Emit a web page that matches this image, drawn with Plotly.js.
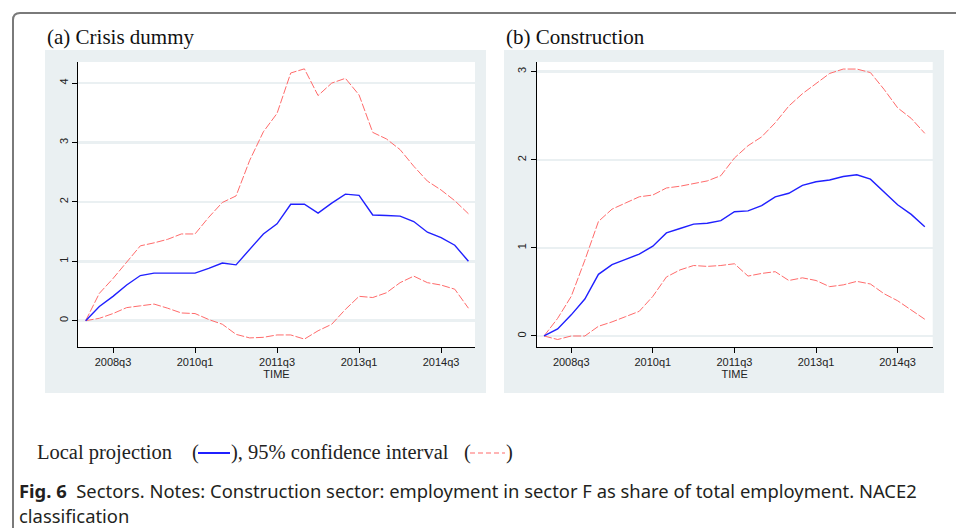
<!DOCTYPE html>
<html><head><meta charset="utf-8">
<script src="https://cdn.plot.ly/plotly-3.0.1.min.js"></script>
<style>html,body{margin:0;padding:0;background:#fff}#chart{width:956px;height:528px}</style>
</head><body><div id="chart"></div>
<script>
const quarters = ['2008q1','2008q2','2008q3','2008q4','2009q1','2009q2','2009q3','2009q4',
  '2010q1','2010q2','2010q3','2010q4','2011q1','2011q2','2011q3','2011q4',
  '2012q1','2012q2','2012q3','2012q4','2013q1','2013q2','2013q3','2013q4',
  '2014q1','2014q2','2014q3','2014q4','2015q1'];
const tickQuarters = ['2008q3','2010q1','2011q3','2013q1','2014q3'];

// (a) Crisis dummy
const crisisLP = [0, 0.24, 0.41, 0.60, 0.76, 0.80, 0.80, 0.80, 0.80, 0.88, 0.97, 0.94, 1.20, 1.46, 1.63, 1.96, 1.96, 1.81, 1.98, 2.13, 2.11, 1.78, 1.77, 1.76, 1.67, 1.49, 1.40, 1.27, 1.00];
const crisisHi = [0, 0.46, 0.71, 0.98, 1.26, 1.31, 1.37, 1.46, 1.46, 1.74, 1.99, 2.10, 2.70, 3.18, 3.49, 4.17, 4.24, 3.79, 4.00, 4.08, 3.80, 3.17, 3.06, 2.88, 2.60, 2.35, 2.20, 2.02, 1.80];
const crisisLo = [0, 0.04, 0.12, 0.22, 0.25, 0.28, 0.21, 0.13, 0.12, 0.02, -0.06, -0.23, -0.29, -0.28, -0.24, -0.24, -0.31, -0.17, -0.06, 0.19, 0.41, 0.39, 0.47, 0.64, 0.75, 0.64, 0.60, 0.53, 0.21];

// (b) Construction
const constrLP = [0, 0.08, 0.24, 0.42, 0.70, 0.81, 0.87, 0.93, 1.02, 1.17, 1.22, 1.27, 1.28, 1.31, 1.41, 1.42, 1.48, 1.58, 1.62, 1.71, 1.75, 1.77, 1.81, 1.83, 1.78, 1.63, 1.49, 1.38, 1.24];
const constrHi = [0, 0.20, 0.45, 0.86, 1.30, 1.44, 1.51, 1.58, 1.60, 1.68, 1.70, 1.73, 1.76, 1.82, 2.02, 2.16, 2.26, 2.42, 2.61, 2.75, 2.87, 2.98, 3.03, 3.03, 2.99, 2.80, 2.59, 2.47, 2.30];
const constrLo = [0, -0.04, 0.00, 0.00, 0.11, 0.16, 0.22, 0.28, 0.45, 0.67, 0.75, 0.80, 0.79, 0.80, 0.82, 0.68, 0.71, 0.73, 0.63, 0.66, 0.63, 0.56, 0.58, 0.62, 0.59, 0.48, 0.40, 0.30, 0.19];

const panelTitles = ['(a) Crisis dummy', '(b) Construction'];
const legendLP = 'Local projection';
const legendCI = '), 95% confidence interval';
const captionBold = 'Fig. 6';
const captionText = 'Sectors. Notes: Construction sector: employment in sector F as share of total employment. NACE2';
const captionText2 = 'classification';
const xTitle = 'TIME';

const W = 956, H = 528;
const px = x => x / W, py = y => 1 - y / H;

const BLUE = '#2020ff', RED = '#ff6b6b', BG = '#eaf0f2';
const serif = '"Liberation Serif", "Times New Roman", serif';
const sans = '"Liberation Sans", Arial, sans-serif';
const capFont = '"Noto Sans", sans-serif';

function lp(x, y, xa, ya) {
  return {x, y, xaxis: xa, yaxis: ya, type: 'scatter', mode: 'lines',
    line: {color: BLUE, width: 1.4}, showlegend: false, hoverinfo: 'skip'};
}
function ci(x, y, xa, ya) {
  return {x, y, xaxis: xa, yaxis: ya, type: 'scatter', mode: 'lines',
    line: {color: RED, width: 1, dash: '8px,2px'}, showlegend: false, hoverinfo: 'skip'};
}

const data = [
  ci(quarters, crisisHi, 'x', 'y'), ci(quarters, crisisLo, 'x', 'y'), lp(quarters, crisisLP, 'x', 'y'),
  ci(quarters, constrHi, 'x2', 'y2'), ci(quarters, constrLo, 'x2', 'y2'), lp(quarters, constrLP, 'x2', 'y2')
];

function xax(domain, range, anchor) {
  return {domain, range, anchor, type: 'category', tickmode: 'array', tickvals: tickQuarters, ticktext: tickQuarters,
    showgrid: false, zeroline: false, showline: true, linecolor: '#000', linewidth: 1,
    ticks: 'outside', ticklen: 5, tickwidth: 1, tickcolor: '#000',
    tickfont: {family: sans, size: 11, color: '#222'},
    title: {text: xTitle, font: {family: sans, size: 11, color: '#222'}, standoff: 1}};
}
function yax(domain, range, anchor, dtick) {
  return {domain, range, anchor, dtick, tick0: 0, showgrid: true, gridcolor: BG, gridwidth: 2.5,
    zeroline: false, showline: true, linecolor: '#000', linewidth: 1,
    ticks: 'outside', ticklen: 5, tickwidth: 1, tickcolor: '#000', tickangle: -90,
    tickfont: {family: sans, size: 11, color: '#222'}};
}

function rect(x0, x1, y0, y1, color) {
  return {type: 'rect', xref: 'paper', yref: 'paper', x0: px(x0), x1: px(x1), y0: py(y1), y1: py(y0),
    fillcolor: color, line: {width: 0}, layer: 'below'};
}

const yDom = [py(347), py(62)];
const layout = {
  width: W, height: H, margin: {l: 0, r: 0, t: 0, b: 0},
  paper_bgcolor: '#fff', plot_bgcolor: 'rgba(0,0,0,0)', showlegend: false,
  xaxis: xax([px(78), px(475)], [-0.56, 28.48], 'y'),
  yaxis: yax(yDom, [-0.443, 4.355], 'x', 1),
  xaxis2: xax([px(536.7), px(932.7)], [-0.54, 28.58], 'y2'),
  yaxis2: yax(yDom, [-0.125, 3.11], 'x2', 1),
  shapes: [
    rect(45, 486, 50, 393, BG),
    rect(504, 944, 50, 393, BG),
    rect(78, 475, 62, 347, '#fff'),
    rect(536.7, 932.7, 62, 347, '#fff'),
    {type: 'path', xref: 'paper', yref: 'paper',
      path: `M ${px(13)},${py(540)} L ${px(13)},${py(20)} Q ${px(13)},${py(13)} ${px(20)},${py(13)} L ${px(970)},${py(13)}`,
      line: {color: '#7a7a7a', width: 2}},
    {type: 'line', xref: 'paper', yref: 'paper', x0: px(198), x1: px(230), y0: py(453), y1: py(453),
      line: {color: BLUE, width: 2}},
    {type: 'line', xref: 'paper', yref: 'paper', x0: px(470), x1: px(505), y0: py(453), y1: py(453),
      line: {color: RED, width: 1.2, dash: '5px,3px'}}
  ],
  annotations: [
    {text: panelTitles[0], xref: 'paper', yref: 'paper', x: px(45), y: py(37), xanchor: 'left', yanchor: 'middle',
      showarrow: false, font: {family: serif, size: 21, color: '#111'}},
    {text: panelTitles[1], xref: 'paper', yref: 'paper', x: px(504), y: py(37), xanchor: 'left', yanchor: 'middle',
      showarrow: false, font: {family: serif, size: 21, color: '#111'}},
    {text: legendLP, xref: 'paper', yref: 'paper', x: px(35), y: py(452), xanchor: 'left', yanchor: 'middle',
      showarrow: false, font: {family: serif, size: 20.5, color: '#222'}},
    {text: '(', xref: 'paper', yref: 'paper', x: px(190), y: py(452), xanchor: 'left', yanchor: 'middle',
      showarrow: false, font: {family: serif, size: 20.5, color: '#222'}},
    {text: legendCI, xref: 'paper', yref: 'paper', x: px(229), y: py(452), xanchor: 'left', yanchor: 'middle',
      showarrow: false, font: {family: serif, size: 20.5, color: '#222'}},
    {text: '(', xref: 'paper', yref: 'paper', x: px(462), y: py(452), xanchor: 'left', yanchor: 'middle',
      showarrow: false, font: {family: serif, size: 20.5, color: '#222'}},
    {text: ')', xref: 'paper', yref: 'paper', x: px(504), y: py(452), xanchor: 'left', yanchor: 'middle',
      showarrow: false, font: {family: serif, size: 20.5, color: '#222'}},
    {text: '<b>' + captionBold + '</b>  ' + captionText, xref: 'paper', yref: 'paper', x: px(17), y: py(490),
      xanchor: 'left', yanchor: 'middle', showarrow: false, font: {family: capFont, size: 18.4, color: '#231f20'}},
    {text: captionText2, xref: 'paper', yref: 'paper', x: px(17), y: py(515),
      xanchor: 'left', yanchor: 'middle', showarrow: false, font: {family: capFont, size: 18.4, color: '#231f20'}}
  ]
};

Plotly.newPlot('chart', data, layout, {staticPlot: true, displayModeBar: false});
</script>
</body></html>
